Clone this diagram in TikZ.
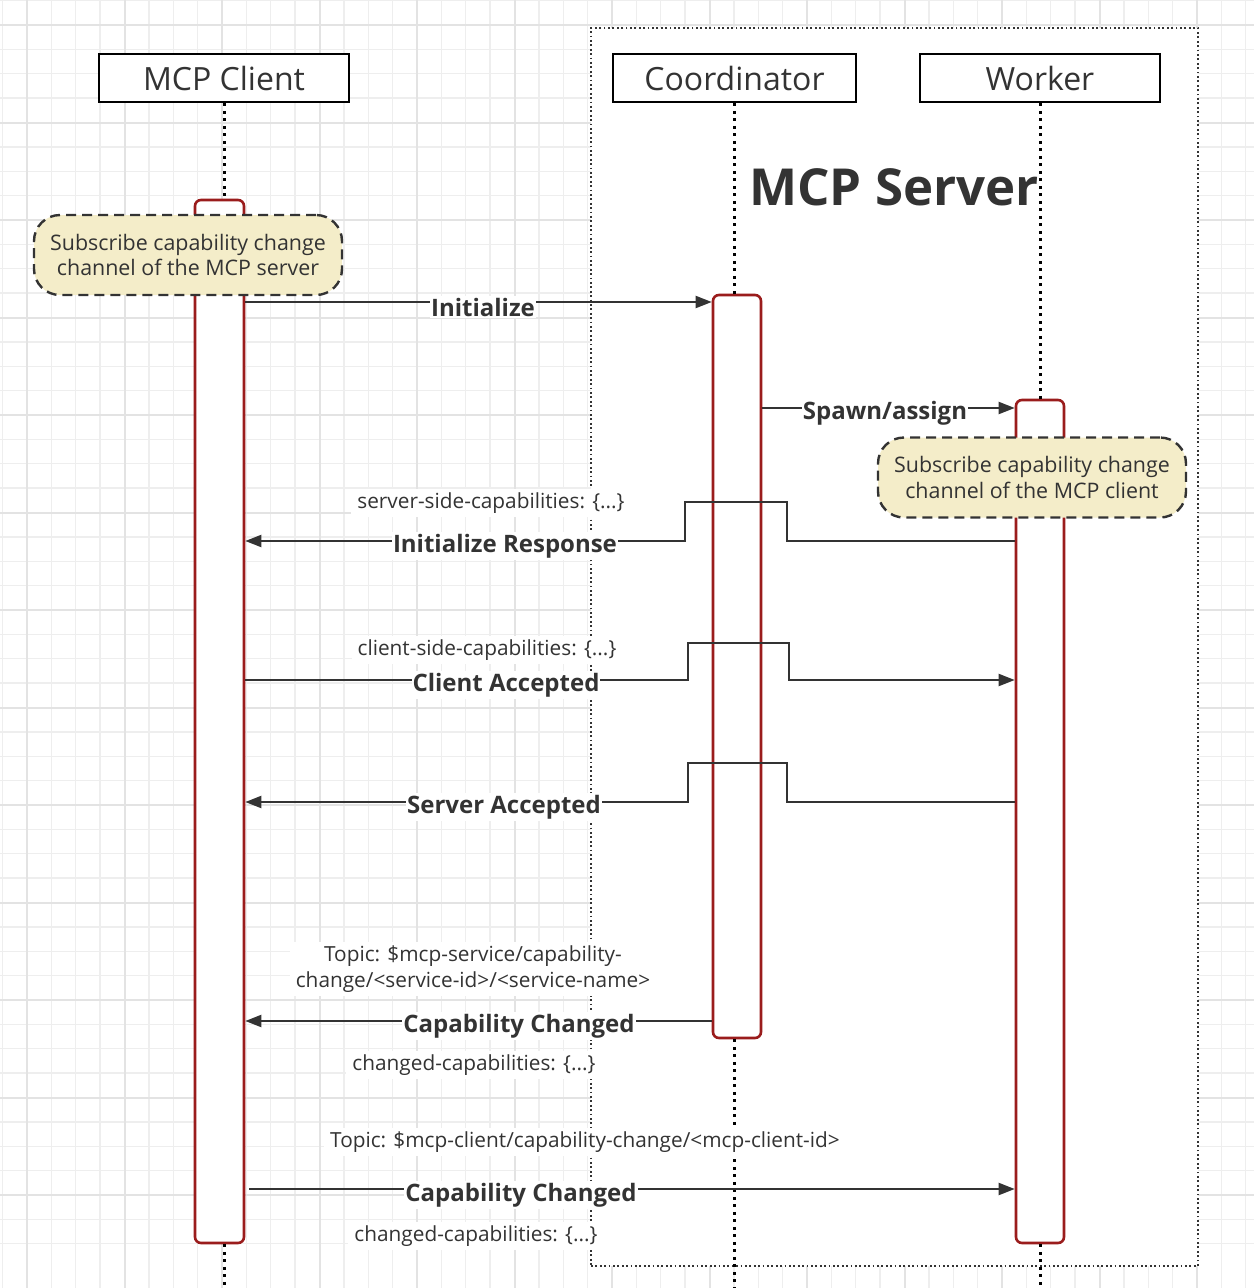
\documentclass[tikz,border=0pt]{standalone}
\usepackage{fontspec}
\setmainfont{Open Sans}
\usetikzlibrary{arrows.meta}
\definecolor{txt}{HTML}{333333}
\definecolor{actred}{HTML}{9A1C1C}
\definecolor{notefill}{HTML}{F4EDC9}
\definecolor{gridmin}{HTML}{EEEEEE}
\definecolor{gridmaj}{HTML}{E3E3E3}
\tikzset{
  part/.style={draw=black, line width=2.6pt, fill=white, text=txt, font=\fontsize{32}{36}\selectfont, inner sep=0pt},
  life/.style={draw=black, line width=3pt, dash pattern=on 3pt off 4.5pt},
  actbox/.style={draw=actred, line width=2.6pt, fill=white, rounded corners=6pt, inner sep=0pt},
  msg/.style={draw=txt, line width=2pt, -{Triangle[length=16pt,width=12pt]}},
  mlbl/.style={fill=white, text=txt, font=\bfseries\fontsize{24}{30}\selectfont, inner xsep=1pt, inner ysep=2pt},
  slbl/.style={fill=white, text=txt, font=\fontsize{20.8}{26}\selectfont, inner xsep=6pt, inner ysep=4pt, align=center},
  notebox/.style={draw=txt, line width=2.4pt, dash pattern=on 10pt off 6pt, fill=notefill, rounded corners=26pt, text=txt, font=\fontsize{21.4}{25.5}\selectfont, align=center, minimum width=308pt, minimum height=80pt, inner sep=0pt},
  srvbox/.style={draw=txt, line width=1.8pt, dash pattern=on 1.8pt off 2.6pt, fill=white, minimum width=607pt, minimum height=1238pt, inner sep=0pt}
}
\begin{document}
\begin{tikzpicture}[x=1pt,y=-1pt]
\useasboundingbox (0,0) rectangle (1254,1288);
\fill[white] (0,0) rectangle (1254,1288);
% grid
\foreach \i in {0,...,51} {
  \draw[gridmin, line width=1.3pt] ({2.6+\i*24.375},0) -- ({2.6+\i*24.375},1288);
  \draw[gridmin, line width=1.3pt] (0,{0.6+\i*24.375}) -- (1254,{0.6+\i*24.375});
}
\foreach \i in {0,...,13} {
  \draw[gridmaj, line width=2pt] ({27+\i*97.5},0) -- ({27+\i*97.5},1288);
  \draw[gridmaj, line width=2pt] (0,{25+\i*97.5}) -- (1254,{25+\i*97.5});
}
% server box
\node[srvbox] (srv) at (894.5,647) {};
\node[text=txt, font=\bfseries\fontsize{51}{60}\selectfont, inner sep=0pt] (srvtitle) at (894,187) {MCP Server};
% participants
\node[part, minimum width=250pt, minimum height=48pt] (pC) at (224,78) {MCP Client};
\node[part, minimum width=243pt, minimum height=48pt] (pK) at (734.5,78) {Coordinator};
\node[part, minimum width=240pt, minimum height=48pt] (pW) at (1040,78) {Worker};
% activations
\node[actbox, minimum width=49pt, minimum height=1043pt] (aC) at (219.5,721.5) {};
\node[actbox, minimum width=48pt, minimum height=743pt] (aK) at (737,666.5) {};
\node[actbox, minimum width=48pt, minimum height=843pt] (aW) at (1040,821.5) {};
% lifelines
\coordinate (bot) at (0,1290);
\draw[life] (pC.south) -- (pC.south |- aC.north);
\draw[life] (pC.south |- aC.south) -- (pC.south |- bot);
\draw[life] (pK.south) -- (pK.south |- aK.north);
\draw[life] (pK.south |- aK.south) -- (pK.south |- bot);
\draw[life] (pW.south) -- (pW.south |- aW.north);
\draw[life] (pW.south |- aW.south) -- (pW.south |- bot);
% message y levels
\coordinate (y1) at (0,302);
\coordinate (y2) at (0,408);
\coordinate (y3) at (0,541);
\coordinate (y4) at (0,680);
\coordinate (y5) at (0,802);
\coordinate (y6) at (0,1021);
\coordinate (y7) at (0,1189);
\coordinate (s7) at (249,1189);
% messages
\draw[msg] (aC.east |- y1) -- (aK.west |- y1);
\node[mlbl] (l1) at (483,307) {Initialize};
\draw[msg] (aK.east |- y2) -- (aW.west |- y2);
\node[mlbl] (l2) at (885,413) {Spawn/assign};
\draw[msg] (aW.west |- y3) -- (787,541) -- (787,502) -- (685,502) -- (685,541) -- (aC.east |- y3);
\node[slbl] (s3) at (491,503) {server-side-capabilities: \{...\}};
\node[mlbl] (l3) at (505,546) {Initialize Response};
\draw[msg] (aC.east |- y4) -- (688,680) -- (688,643) -- (789,643) -- (789,680) -- (aW.west |- y4);
\node[slbl] (s4) at (487,650) {client-side-capabilities: \{...\}};
\node[mlbl] (l4) at (506,685) {Client Accepted};
\draw[msg] (aW.west |- y5) -- (787,802) -- (787,763) -- (688,763) -- (688,802) -- (aC.east |- y5);
\node[mlbl] (l5) at (504,807) {Server Accepted};
\draw[msg] (aK.west |- y6) -- (aC.east |- y6);
\node[slbl] (s6) at (473,969) {Topic: \$mcp-service/capability-\\change/<service-id>/<service-name>};
\node[mlbl] (l6) at (519,1026) {Capability Changed};
\node[slbl] (c6) at (474,1065) {changed-capabilities: \{...\}};
\draw[msg] (s7) -- (aW.west |- y7);
\node[slbl] (s7t) at (585,1142) {Topic: \$mcp-client/capability-change/<mcp-client-id>};
\node[mlbl] (l7) at (521,1195) {Capability Changed};
\node[slbl] (c7) at (476,1236) {changed-capabilities: \{...\}};
% notes
\node[notebox] (n1) at (188,255) {Subscribe capability change\\channel of the MCP server};
\node[notebox] (n2) at (1032,477.5) {Subscribe capability change\\channel of the MCP client};
\end{tikzpicture}
\end{document}
